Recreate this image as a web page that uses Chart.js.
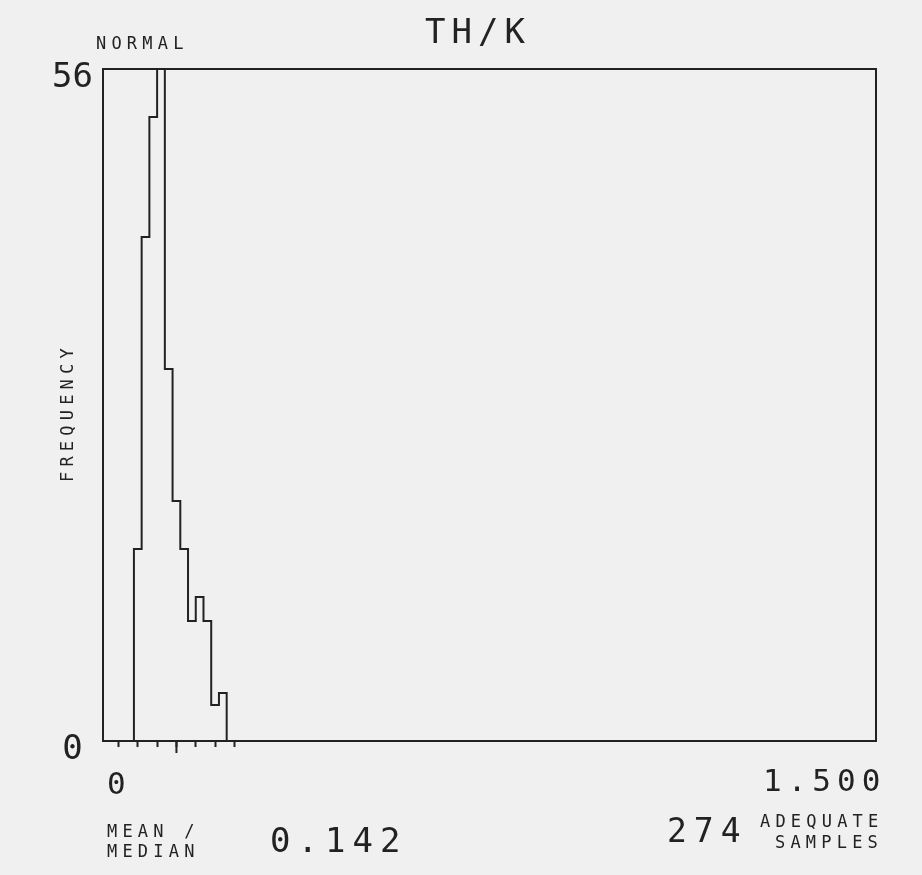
<!DOCTYPE html>
<html>
<head>
<meta charset="utf-8">
<script src="https://cdn.jsdelivr.net/npm/chart.js@4.4.1/dist/chart.umd.min.js"></script>
<style>
  html, body { margin: 0; padding: 0; background: #f0f0f0; }
  #wrap { width: 922px; height: 875px; }
</style>
</head>
<body>
<div id="wrap"><canvas id="c" width="922" height="875"></canvas></div>
<script>
// ---- data ----
const chartTitle = 'TH/K';
const distributionLabel = 'NORMAL';
const yAxisTitle = 'FREQUENCY';
const binEdges = [0.060, 0.075, 0.090, 0.105, 0.120, 0.135, 0.150, 0.165, 0.180, 0.195, 0.210, 0.225, 0.240, 0.255];
const frequencies = [2, 16, 42, 52, 56, 31, 20, 16, 10, 12, 10, 3, 4];
const yTickValues = [0, 56];
const xRange = [0, 1.5];
const xEndLabels = ['0', '1.500'];
const markerTicks = [0.03, 0.0675, 0.105, 0.1425, 0.18, 0.2175, 0.255];
const meanMedian = 0.142;
const meanMedianLabel = ['MEAN /', 'MEDIAN'];
const sampleCount = 274;
const sampleLabel = ['ADEQUATE', 'SAMPLES'];

const INK = '#222222';
const FONT = '"DejaVu Sans Mono", "Liberation Mono", monospace';

const points = [{ x: binEdges[0], y: 0 }];
frequencies.forEach((f, i) => points.push({ x: binEdges[i], y: f }));
points.push({ x: binEdges[binEdges.length - 1], y: 0 });

function txt(ctx, s, x, y, size, spacing, align) {
  ctx.font = size + 'px ' + FONT;
  ctx.letterSpacing = spacing + 'px';
  ctx.textAlign = align || 'left';
  ctx.textBaseline = 'alphabetic';
  ctx.fillText(s, x, y);
}

const annot = {
  id: 'annot',
  beforeDraw(chart) {
    const ctx = chart.ctx;
    ctx.save();
    ctx.fillStyle = '#f0f0f0';
    ctx.fillRect(0, 0, chart.width, chart.height);
    ctx.restore();
  },
  afterDraw(chart) {
    const { ctx, chartArea: a, scales: { x } } = chart;
    ctx.save();
    ctx.strokeStyle = INK;
    ctx.lineWidth = 2;
    ctx.strokeRect(a.left, a.top, a.right - a.left, a.bottom - a.top);
    const pm = x.getPixelForValue(markerTicks[3]);
    ctx.beginPath();
    ctx.moveTo(pm, a.bottom);
    ctx.lineTo(pm, a.bottom + 12);
    ctx.stroke();

    ctx.fillStyle = INK;
    txt(ctx, chartTitle, 425, 43, 34, 6);
    txt(ctx, distributionLabel, 96, 49, 17, 5.2);

    ctx.save();
    ctx.translate(73, 416);
    ctx.rotate(-Math.PI / 2);
    txt(ctx, yAxisTitle, -66, 0, 17, 5.2);
    ctx.restore();

    txt(ctx, xEndLabels[0], x.getPixelForValue(xRange[0]) + 4, a.bottom + 53, 31, 6);
    txt(ctx, xEndLabels[1], x.getPixelForValue(xRange[1]) - 113, a.bottom + 50, 31, 6);

    txt(ctx, meanMedianLabel[0], 107, 837, 17, 5.2);
    txt(ctx, meanMedianLabel[1], 107, 857, 17, 5.2);
    txt(ctx, meanMedian.toFixed(3), 270, 852, 34, 7);
    txt(ctx, String(sampleCount), 667, 842, 33, 7);
    txt(ctx, sampleLabel[0], 760, 827, 17, 5.2);
    txt(ctx, sampleLabel[1], 775, 848, 17, 5.2);
    ctx.restore();
  }
};

new Chart(document.getElementById('c'), {
  type: 'line',
  data: {
    datasets: [{
      data: points,
      stepped: 'after',
      borderColor: INK,
      borderWidth: 2,
      pointRadius: 0,
      fill: false,
      tension: 0
    }]
  },
  options: {
    responsive: false,
    animation: false,
    devicePixelRatio: 1,
    layout: { padding: { top: 69, right: 46, left: 0, bottom: 0 } },
    plugins: { legend: { display: false }, title: { display: false }, tooltip: { enabled: false } },
    scales: {
      x: {
        type: 'linear',
        min: xRange[0],
        max: xRange[1],
        afterBuildTicks: (s) => { s.ticks = markerTicks.map(v => ({ value: v })); },
        afterFit: (s) => { s.height = 134; },
        ticks: { display: false },
        grid: { display: true, drawOnChartArea: false, drawTicks: true, tickLength: 6, tickWidth: 2, tickColor: INK },
        border: { display: false }
      },
      y: {
        type: 'linear',
        min: yTickValues[0],
        max: yTickValues[1],
        afterBuildTicks: (s) => { s.ticks = yTickValues.map(v => ({ value: v })); },
        afterFit: (s) => { s.width = 103; },
        ticks: { color: INK, font: { family: FONT, size: 34 }, crossAlign: 'center', padding: 10, labelOffset: 9 },
        grid: { display: false, drawTicks: false },
        border: { display: false }
      }
    }
  },
  plugins: [annot]
});
</script>
</body>
</html>
